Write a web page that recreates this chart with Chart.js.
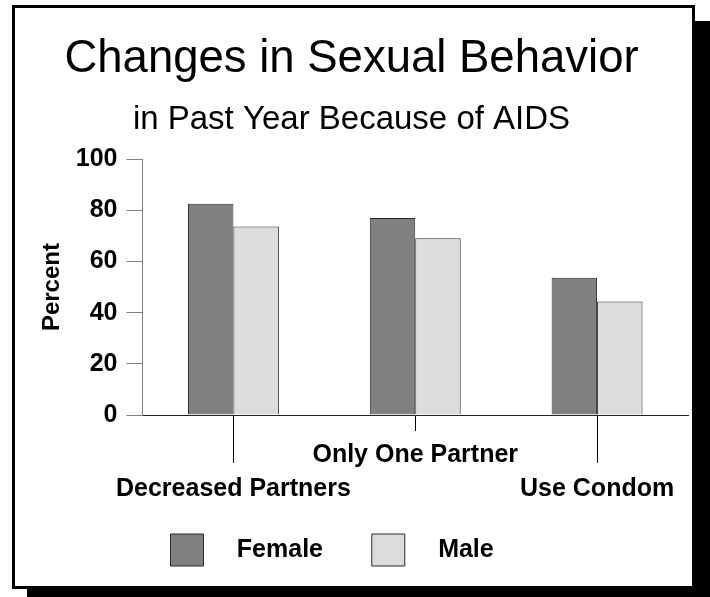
<!DOCTYPE html>
<html>
<head>
<meta charset="utf-8">
<title>Changes in Sexual Behavior</title>
<script src="https://cdn.jsdelivr.net/npm/chart.js@4/dist/chart.umd.min.js"></script>
<style>
  html, body { margin: 0; padding: 0; background: #fff; }
  body { width: 710px; height: 597px; position: relative; overflow: hidden; }
  /* boxed panel with a hard drop shadow */
  #frame {
    position: absolute; left: 12px; top: 5px;
    width: 677px; height: 578px;
    border: 3px solid #000; background: #fff;
    box-shadow: 15px 16px 0 #000;
  }
  #wrap { position: absolute; left: 0; top: 0; width: 710px; height: 597px; }
</style>
</head>
<body>
<div id="frame"></div>
<div id="wrap"><canvas id="chart"></canvas></div>
<script>
// Survey data (percent answering yes)
const categories = ['Decreased Partners', 'Only One Partner', 'Use Condom'];
const femaleValues = [82.6, 77.0, 53.7];
const maleValues = [73.7, 69.1, 44.4];
const yTickValues = [0, 20, 40, 60, 80, 100];

const FONT = 'Liberation Sans, Arial, sans-serif';
const ink = '#000';

// every other category label drops to a second line so long names don't collide
function staggerLabel(value, index){
  const name = this.getLabelForValue(value);
  return index % 2 === 0 ? ['', name] : name;
}

// legend row sits a bit in from the plot's left edge
const legendInset = {
  id: 'legendInset',
  afterLayout(chart){
    chart.legend.left += 7;
    chart.legend.right += 7;
  }
};

const ctx = document.getElementById('chart').getContext('2d');

const chart = new Chart(ctx, {
  type: 'bar',
  data: {
    labels: categories,
    datasets: [
      {
        label: 'Female',
        data: femaleValues,
        backgroundColor: '#808080',
        borderColor: '#2a2a2a',
        borderWidth: 1,
        categoryPercentage: 0.5,
        barPercentage: 1.0
      },
      {
        label: 'Male',
        data: maleValues,
        backgroundColor: '#dcdcdc',
        borderColor: '#2a2a2a',
        borderWidth: 1,
        categoryPercentage: 0.5,
        barPercentage: 1.0
      }
    ]
  },
  options: {
    responsive: true,
    maintainAspectRatio: false,
    animation: false,
    layout: { padding: { left: 15, right: 22, top: 0, bottom: 21 } },
    scales: {
      x: {
        type: 'category',
        position: 'bottom',
        offset: true,
        grid: { offset: false, drawOnChartArea: false, tickLength: 16, color: ink, lineWidth: 1 },
        border: { display: true, color: '#222', width: 1 },
        ticks: {
          color: ink,
          padding: 7,
          maxRotation: 0,
          autoSkip: false,
          font: { family: FONT, size: 25, weight: 'bold', lineHeight: 1.36 },
          callback: staggerLabel
        }
      },
      // second category axis pinned at y=0: only carries the longer leader ticks
      xLeader: {
        type: 'category',
        position: { y: 0 },
        offset: true,
        grid: {
          offset: false,
          drawOnChartArea: false,
          tickLength: 48,
          lineWidth: 1,
          color: c => (c.index % 2 === 0 ? ink : 'rgba(0,0,0,0)')
        },
        border: { display: false },
        ticks: { display: false }
      },
      y: {
        min: yTickValues[0],
        max: yTickValues[yTickValues.length - 1],
        afterBuildTicks: axis => { axis.ticks = yTickValues.map(v => ({ value: v })); },
        grid: { drawOnChartArea: false, tickLength: 16, color: '#808080', lineWidth: 1 },
        border: { display: true, color: '#808080', width: 1 },
        ticks: {
          color: ink,
          padding: 9,
          font: { family: FONT, size: 25, weight: 'bold' }
        },
        title: {
          display: true,
          text: 'Percent',
          color: ink,
          font: { family: FONT, size: 24, weight: 'bold' },
          padding: { top: 23, bottom: 0 }
        }
      }
    },
    plugins: {
      title: {
        display: true,
        text: 'Changes in Sexual Behavior',
        color: ink,
        font: { family: FONT, size: 45.5, weight: 'normal' },
        padding: { top: 32, bottom: 0 }
      },
      subtitle: {
        display: true,
        text: 'in Past Year Because of AIDS',
        color: ink,
        font: { family: FONT, size: 33, weight: 'normal' },
        padding: { top: 14, bottom: 19 }
      },
      legend: {
        display: true,
        position: 'bottom',
        align: 'start',
        fullSize: false,
        labels: {
          color: ink,
          boxWidth: 33,
          boxHeight: 32,
          padding: 21,
          font: { family: FONT, size: 25, weight: 'bold' },
          generateLabels: c => {
            const items = Chart.defaults.plugins.legend.labels.generateLabels(c);
            items.forEach((it, i) => {
              it.text = '   ' + it.text + (i === 0 ? '    ' : '');
              it.lineWidth = 1;
            });
            return items;
          }
        }
      },
      tooltip: { enabled: false }
    }
  },
  plugins: [legendInset]
});
</script>
</body>
</html>
